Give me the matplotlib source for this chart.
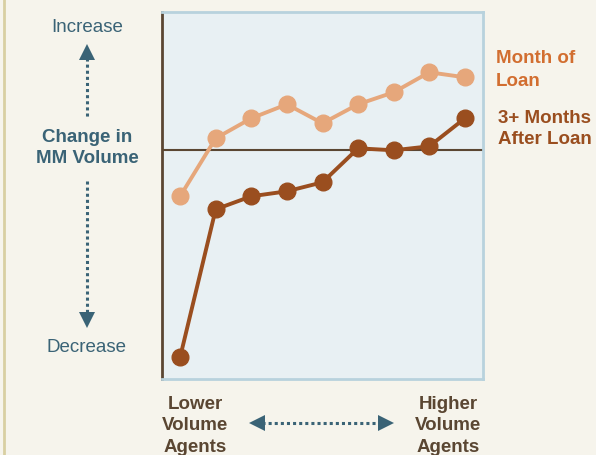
import matplotlib
matplotlib.use("Agg")
import matplotlib.pyplot as plt
from matplotlib.lines import Line2D

plt.rcParams['font.family'] = ['Liberation Sans', 'DejaVu Sans']

# agent groups, lower volume -> higher volume
agents = list(range(9))
month_of_loan = [-4.6, 1.2, 3.2, 4.6, 2.7, 4.6, 5.8, 7.8, 7.3]
after_loan = [-20.7, -5.9, -4.6, -4.1, -3.2, 0.2, 0.0, 0.4, 3.2]

W, H = 596, 455
BG = '#F6F4EC'
LIGHT = '#E6A77B'
DARK = '#9A4E1F'
TEAL = '#3A6376'
BROWN = '#5A4632'
FS = 13.5

fig = plt.figure(figsize=(W / 100, H / 100), dpi=100, facecolor=BG)


def fx(x):
    return x / W


def fy(y):
    return 1 - y / H


ax = fig.add_axes([fx(162.3), fy(379.3), fx(482.7) - fx(162.3), fy(12.3) - fy(379.3)])
ax.set_facecolor('#E8F0F3')
ax.set_xlim(-0.5, 8.5)
ax.set_ylim(-22.9, 13.8)
ax.set_xticks([])
ax.set_yticks([])
for s in ['top', 'right', 'bottom']:
    ax.spines[s].set_color('#B8D2DD')
    ax.spines[s].set_linewidth(2)
ax.spines['left'].set_color(BROWN)
ax.spines['left'].set_linewidth(2)
ax.axhline(0, color=BROWN, lw=1.5, zorder=1)

ax.plot(agents, month_of_loan, color=LIGHT, lw=2.8, marker='o', ms=12, zorder=3)
ax.plot(agents, after_loan, color=DARK, lw=2.8, marker='o', ms=12, zorder=4)

# left border strip
fig.add_artist(Line2D([fx(4), fx(4)], [0, 1], color='#D8CFA2', lw=2))

# vertical axis annotation
fig.text(fx(87), fy(27), 'Increase', color=TEAL, fontsize=FS, ha='center', va='center')
fig.text(fx(87), fy(348), 'Decrease', color=TEAL, fontsize=FS, ha='center', va='center')
fig.text(fx(87), fy(148), 'Change in\nMM Volume', color=TEAL, fontsize=FS, fontweight='bold',
         ha='center', va='center', linespacing=1.32)
fig.add_artist(Line2D([fx(87), fx(87)], [fy(58), fy(117)], color=TEAL, lw=2.2, ls=(0, (1, 1))))
fig.add_artist(Line2D([fx(87), fx(87)], [fy(181), fy(314)], color=TEAL, lw=2.2, ls=(0, (1, 1))))
fig.add_artist(Line2D([fx(87)], [fy(52)], marker='^', color=TEAL, ms=12, mew=0))
fig.add_artist(Line2D([fx(87)], [fy(320)], marker='v', color=TEAL, ms=12, mew=0))

# horizontal axis annotation
fig.text(fx(195), fy(426), 'Lower\nVolume\nAgents', color=BROWN, fontsize=FS, fontweight='bold',
         ha='center', va='center', linespacing=1.35)
fig.text(fx(448), fy(426), 'Higher\nVolume\nAgents', color=BROWN, fontsize=FS, fontweight='bold',
         ha='center', va='center', linespacing=1.35)
fig.add_artist(Line2D([fx(262), fx(382)], [fy(423), fy(423)], color=TEAL, lw=2.2, ls=(0, (1, 1))))
fig.add_artist(Line2D([fx(257)], [fy(423)], marker='<', color=TEAL, ms=12, mew=0))
fig.add_artist(Line2D([fx(386)], [fy(423)], marker='>', color=TEAL, ms=12, mew=0))

# series labels
fig.text(fx(496), fy(70), 'Month of\nLoan', color='#D26E30', fontsize=FS, fontweight='bold',
         ha='left', va='center', linespacing=1.45)
fig.text(fx(498), fy(129), '3+ Months\nAfter Loan', color=DARK, fontsize=FS, fontweight='bold',
         ha='left', va='center', linespacing=1.3)

fig.savefig('out.png', dpi=100, facecolor=BG)
